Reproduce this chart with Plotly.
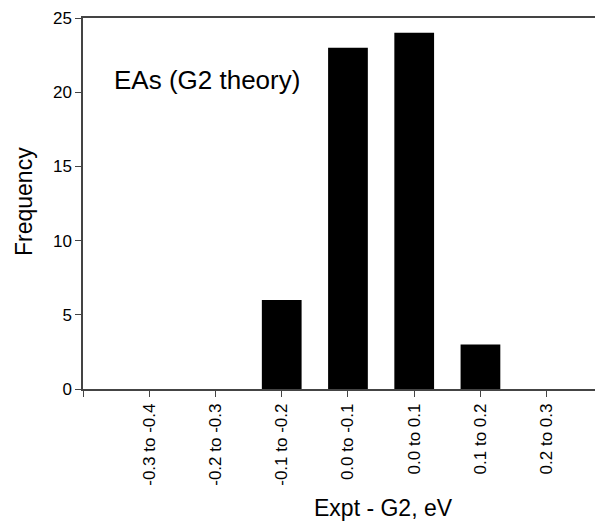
import plotly.graph_objects as go

categories = ["-0.3 to -0.4", "-0.2 to -0.3", "-0.1 to -0.2", "0.0 to -0.1",
              "0.0 to 0.1", "0.1 to 0.2", "0.2 to 0.3"]
frequency = [0, 0, 6, 23, 24, 3, 0]
y_ticks = [0, 5, 10, 15, 20, 25]

positions = list(range(len(categories)))
FONT = "Arial, 'Liberation Sans', Helvetica, sans-serif"

fig = go.Figure()
fig.add_trace(go.Bar(x=positions, y=frequency, width=0.6,
                     marker=dict(color="black", line=dict(width=0))))

OFF = 8  # page body margin
W, H = 603 - OFF, 522 - OFF
L, R, T, B = 83 - OFF, 0, 18 - OFF, 133
pw, ph = W - L - R, H - T - B
bottom = H - B + OFF  # y pixel of axis bottom in window

def px(x):
    return (x - (L + OFF)) / pw

def py(y):
    return (bottom - y) / ph

fig.update_layout(
    width=W, height=H,
    margin=dict(l=L, r=R, t=T, b=B, pad=0),
    plot_bgcolor="white", paper_bgcolor="white",
    font=dict(family=FONT, color="black", size=16),
    showlegend=False,
)
fig.update_xaxes(
    range=[-1, 6.85],
    tickmode="array",
    tickvals=[-1] + positions,
    ticktext=[""] + categories,
    tickangle=-90,
    ticks="outside", ticklen=6, tickcolor="#444", tickwidth=1,
    showline=True, linecolor="#444", linewidth=1.5, mirror=True,
    showgrid=False, zeroline=False,
    tickfont=dict(size=17, family=FONT),
)
fig.update_yaxes(
    range=[0, 25],
    tickmode="array", tickvals=y_ticks,
    ticks="outside", ticklen=6, tickcolor="#444", tickwidth=1,
    showline=True, linecolor="#444", linewidth=1.5,
    showgrid=False, zeroline=False,
    tickfont=dict(size=17, family=FONT),
)
fig.add_annotation(text="EAs (G2 theory)", xref="paper", yref="paper",
                   x=px(112), y=py(80), xanchor="left", yanchor="middle",
                   showarrow=False, font=dict(size=26, family=FONT))
fig.add_annotation(text="Expt - G2, eV", xref="paper", yref="paper",
                   x=px(383), y=py(508), xanchor="center", yanchor="middle",
                   showarrow=False, font=dict(size=23, family=FONT))
fig.add_annotation(text="Frequency", xref="paper", yref="paper",
                   x=px(24), y=py(202), xanchor="center", yanchor="middle",
                   textangle=-90, showarrow=False, font=dict(size=23, family=FONT))

fig.write_html("out.html")
